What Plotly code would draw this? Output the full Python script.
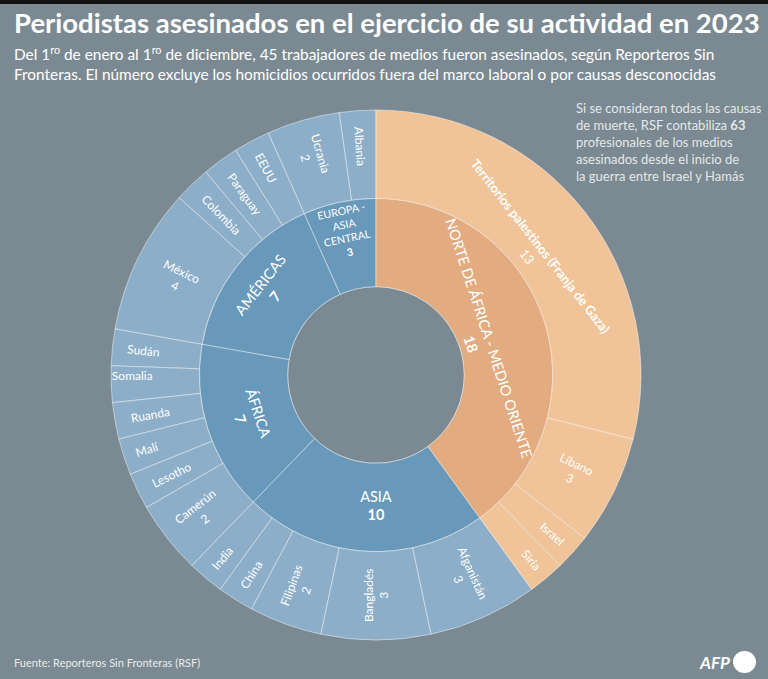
import plotly.graph_objects as go

# ---- data ----
regions = ["NORTE DE ÁFRICA - MEDIO ORIENTE", "ASIA", "ÁFRICA", "AMÉRICAS", "EUROPA - ASIA CENTRAL"]
region_values = [18, 10, 7, 7, 3]
region_display = ["NORTE DE ÁFRICA - MEDIO ORIENTE", "ASIA", "ÁFRICA", "AMÉRICAS", "EUROPA -<br>ASIA<br>CENTRAL"]

countries = ["Territorios palestinos (Franja de Gaza)", "Líbano", "Israel", "Siria",
             "Afganistán", "Bangladés", "Filipinas", "China", "India",
             "Camerún", "Lesotho", "Malí", "Ruanda", "Somalia", "Sudán",
             "México", "Colombia", "Paraguay", "EEUU",
             "Ucrania", "Albania"]
country_region = ["NORTE DE ÁFRICA - MEDIO ORIENTE"] * 4 + ["ASIA"] * 5 + ["ÁFRICA"] * 6 + \
                 ["AMÉRICAS"] * 4 + ["EUROPA - ASIA CENTRAL"] * 2
country_values = [13, 3, 1, 1,
                  3, 3, 2, 1, 1,
                  2, 1, 1, 1, 1, 1,
                  4, 1, 1, 1,
                  2, 1]
tangential_countries = ["Territorios palestinos (Franja de Gaza)"]

BG = "#7b8a92"
inner_col = {"NORTE DE ÁFRICA - MEDIO ORIENTE": "#e2ac80"}
outer_col = {"NORTE DE ÁFRICA - MEDIO ORIENTE": "#f0c498"}
BLUE_IN, BLUE_OUT = "#6899ba", "#8caec8"
FONT = "Lato"

# sunburst draws counterclockwise, so feed the (clockwise) reading order reversed
total = sum(region_values)
ids, labels, parents, values, colors = ["root"], [""], [""], [total], [BG]
text_radial, text_tang, sizes = [""], [""], [12]
for r, v, d in reversed(list(zip(regions, region_values, region_display))):
    ids.append(r); labels.append(r); parents.append("root"); values.append(v)
    text_radial.append("")
    text_tang.append(f"{d}<br><b>{v}</b>")
    colors.append(inner_col.get(r, BLUE_IN)); sizes.append(14.5)
for c, r, v in reversed(list(zip(countries, country_region, country_values))):
    ids.append(r + "/" + c); labels.append(c); parents.append(r); values.append(v)
    t = c if v == 1 else f"{c}<br>{v}"
    if c in tangential_countries:
        text_radial.append(""); text_tang.append(f"<b>{c}</b><br>{v}"); sizes.append(13)
    else:
        text_radial.append(t); text_tang.append(""); sizes.append(12)
    colors.append(outer_col.get(r, BLUE_OUT))

W, H = 768, 679
dom = dict(x=[(376 - 265) / W, (376 + 265) / W], y=[1 - 640 / H, 1 - 110 / H])
common = dict(ids=ids, labels=labels, parents=parents, values=values,
              branchvalues="total", sort=False, rotation=90,
              texttemplate="%{text}", domain=dom, leaf=dict(opacity=1),
              insidetextfont=dict(color="white", size=sizes, family=FONT))

fig = go.Figure()
fig.add_trace(go.Sunburst(
    text=text_radial, insidetextorientation="radial",
    marker=dict(colors=colors, line=dict(color="rgba(255,255,255,0.45)", width=1)),
    hoverinfo="label+value", **common))
fig.add_trace(go.Sunburst(
    text=text_tang, insidetextorientation="tangential",
    marker=dict(colors=["rgba(0,0,0,0)"] * len(ids), line=dict(width=0)),
    hoverinfo="skip", **common))

def px(x): return x / W
def py(y): return 1 - y / H

annotations = [
    dict(x=px(12), y=py(23), text="<b>Periodistas asesinados en el ejercicio de su actividad en 2023</b>",
         font=dict(size=27.5, color="white", family=FONT), xanchor="left", yanchor="middle", showarrow=False),
    dict(x=px(12), y=py(63), text="Del 1<sup>ro</sup> de enero al 1<sup>ro</sup> de diciembre, 45 trabajadores de medios fueron asesinados, según Reporteros Sin<br>Fronteras. El número excluye los homicidios ocurridos fuera del marco laboral o por causas desconocidas",
         font=dict(size=15.4, color="white", family=FONT), xanchor="left", yanchor="middle", align="left", showarrow=False),
    dict(x=px(574), y=py(142), text="Si se consideran todas las causas<br>de muerte, RSF contabiliza <b>63</b><br>profesionales de los medios<br>asesinados desde el inicio de<br>la guerra entre Israel y Hamás",
         font=dict(size=13, color="rgba(255,255,255,0.82)", family=FONT), xanchor="left", yanchor="middle", align="left", showarrow=False),
    dict(x=px(12), y=py(662), text="Fuente: Reporteros Sin Fronteras (RSF)",
         font=dict(size=11, color="rgba(255,255,255,0.85)", family=FONT), xanchor="left", yanchor="middle", showarrow=False),
    dict(x=px(732), y=py(662), text="<b><i>AFP</i></b>",
         font=dict(size=17, color="white", family=FONT), xanchor="right", yanchor="middle", showarrow=False),
]
shapes = [
    dict(type="rect", xref="paper", yref="paper", x0=0, x1=1, y0=py(4), y1=1,
         fillcolor="#111111", line=dict(width=0)),
    dict(type="circle", xref="paper", yref="paper", x0=px(733), x1=px(756), y0=py(673), y1=py(651),
         fillcolor="white", line=dict(width=0)),
]

fig.update_layout(width=W, height=H, margin=dict(l=0, r=0, t=0, b=0),
                  paper_bgcolor=BG, plot_bgcolor=BG,
                  annotations=annotations, shapes=shapes, showlegend=False)
fig.write_html("out.html")
